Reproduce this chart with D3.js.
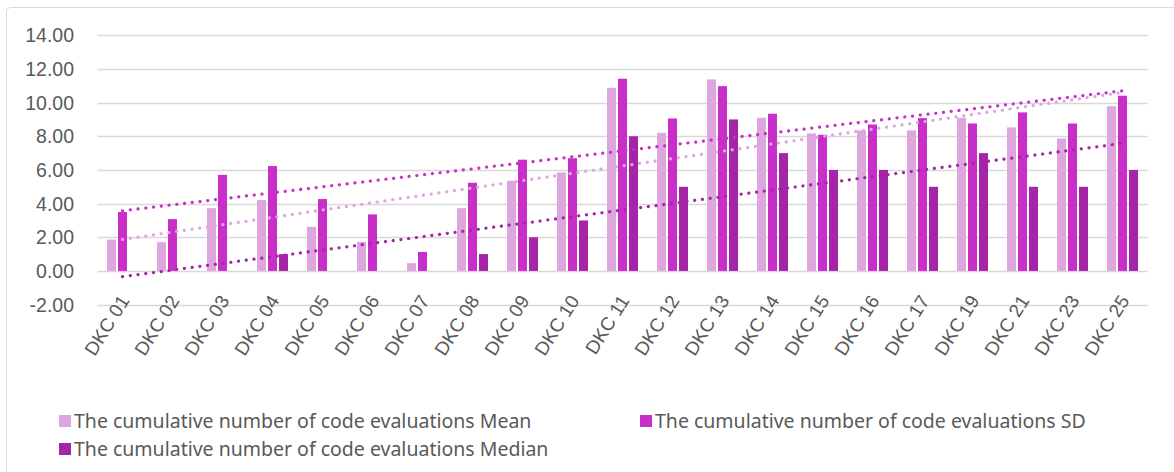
<!DOCTYPE html>
<html><head><meta charset="utf-8">
<script src="https://cdn.jsdelivr.net/npm/d3@7"></script>
<style>body{margin:0;background:#fff}svg{display:block}</style>
</head><body>
<script>
const categories = ["DKC 01","DKC 02","DKC 03","DKC 04","DKC 05","DKC 06","DKC 07","DKC 08","DKC 09","DKC 10","DKC 11","DKC 12","DKC 13","DKC 14","DKC 15","DKC 16","DKC 17","DKC 19","DKC 21","DKC 23","DKC 25"];
const meanValues   = [1.86,1.71,3.73,4.21,2.62,1.73,0.46,3.73,5.36,5.85,10.88,8.21,11.38,9.10,8.17,8.35,8.35,9.10,8.53,7.87,9.79];
const sdValues     = [3.50,3.08,5.71,6.23,4.27,3.36,1.13,5.24,6.61,6.70,11.42,9.06,10.98,9.34,8.09,8.70,9.08,8.76,9.42,8.76,10.41];
const medianValues = [0,0,0,1,0,0,0,1,2,3,8,5,9,7,6,6,5,7,5,5,6];
const seriesNames  = ["The cumulative number of code evaluations Mean","The cumulative number of code evaluations SD","The cumulative number of code evaluations Median"];
const yTicks = [-2,0,2,4,6,8,10,12,14];

const colors = ["#DFA5DE","#C82FC9","#A524A8"];
const W = 1174, H = 472;
const svg = d3.select("body").append("svg").attr("width", W).attr("height", H);
svg.append("rect").attr("x",6.5).attr("y",7.5).attr("width",W+10).attr("height",H+10)
  .attr("fill","#fff").attr("stroke","#d9d9d9").attr("rx",4);

const x = d3.scaleBand().domain(categories).range([97.5,1147.5]).padding(0);
const y = d3.scaleLinear().domain([-2,14]).range([304.6,35.3]);

// gridlines
svg.append("g").selectAll("line").data(yTicks).join("line")
  .attr("x1",97.5).attr("x2",1147.5)
  .attr("y1",d=>Math.round(y(d))+0.5).attr("y2",d=>Math.round(y(d))+0.5)
  .attr("stroke","#d9d9d9").attr("stroke-width",1.5);

// y labels
svg.append("g").selectAll("text").data(yTicks).join("text")
  .attr("x",74).attr("y",d=>y(d)).attr("dy","0.36em")
  .attr("text-anchor","end").attr("font-family","Liberation Sans, Arial, sans-serif")
  .attr("font-size",19.5).attr("fill","#595959").text(d=>d.toFixed(2));

const allSeries = [meanValues, sdValues, medianValues];
const bw = x.bandwidth();
const barW = bw*0.18, step = bw*0.22, off0 = bw*0.19;
allSeries.forEach((vals,si)=>{
  svg.append("g").selectAll("rect").data(vals).join("rect")
    .attr("x",(d,i)=>x(categories[i])+off0+si*step)
    .attr("width",barW)
    .attr("y",d=>y(Math.max(0,d)))
    .attr("height",d=>Math.abs(y(d)-y(0)))
    .attr("fill",colors[si]);
});

// trendlines (linear regression over category index)
allSeries.forEach((vals,si)=>{
  const n = vals.length, xs = vals.map((_,i)=>i+1);
  const mx = d3.mean(xs), my = d3.mean(vals);
  let sxy=0,sxx=0; xs.forEach((xi,i)=>{sxy+=(xi-mx)*(vals[i]-my); sxx+=(xi-mx)*(xi-mx);});
  const b = sxy/sxx, a = my - b*mx;
  const c0 = x(categories[0])+bw/2, c1 = x(categories[n-1])+bw/2;
  svg.append("line")
    .attr("x1",c0).attr("y1",y(a+b*1)).attr("x2",c1).attr("y2",y(a+b*n))
    .attr("stroke",colors[si]).attr("stroke-width",3.2)
    .attr("stroke-linecap","round").attr("stroke-dasharray","0.1 7.7");
});

// x labels
svg.append("g").selectAll("text").data(categories).join("text")
  .attr("transform",d=>`translate(${x(d)+bw/2+7.5},${300.5}) rotate(-58)`)
  .attr("text-anchor","end")
  .attr("font-family","Liberation Sans, Arial, sans-serif")
  .attr("font-size",19).attr("fill","#595959").text(d=>d);

// legend
const legPos = [[59,421],[640,421],[59,449]];
seriesNames.forEach((name,i)=>{
  const g = svg.append("g").attr("transform",`translate(${legPos[i][0]},${legPos[i][1]})`);
  g.append("rect").attr("x",0).attr("y",-6).attr("width",12).attr("height",12).attr("fill",colors[i]);
  g.append("text").attr("x",15).attr("y",0).attr("dy","0.35em")
    .attr("font-family","Noto Sans, Liberation Sans, sans-serif")
    .attr("font-size",19.5).attr("fill","#595959").text(name);
});
</script>
</body></html>
